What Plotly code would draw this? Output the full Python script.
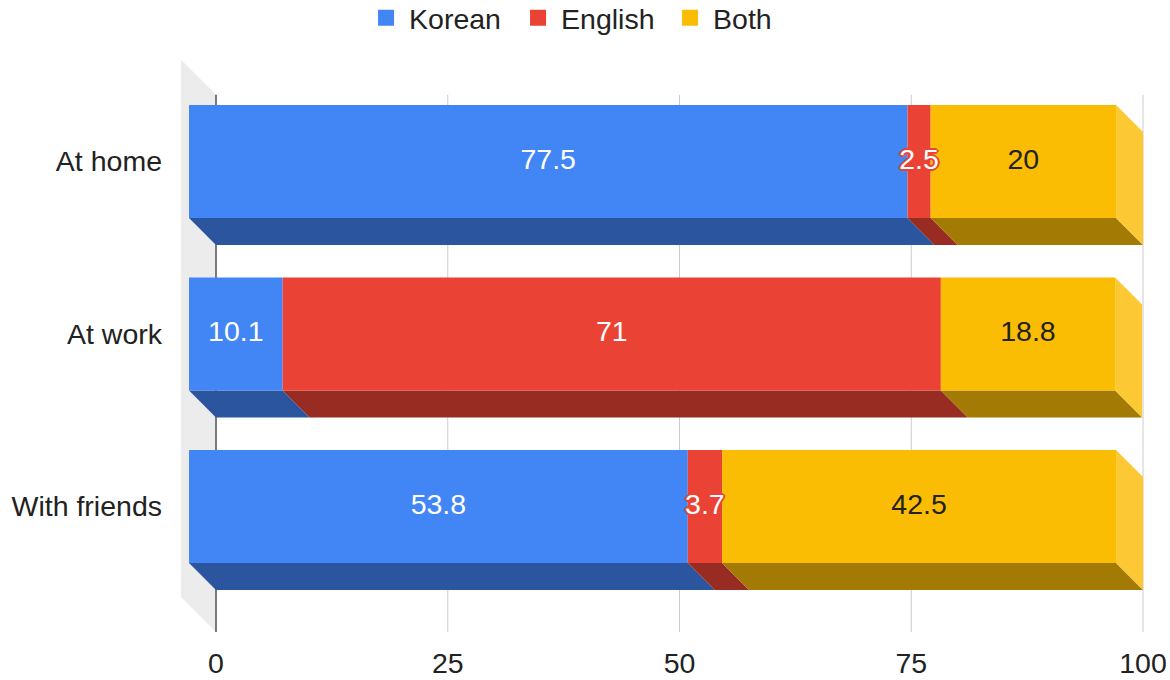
import plotly.graph_objects as go

# ---------------- data ----------------
categories = ["At home", "At work", "With friends"]
series_names = ["Korean", "English", "Both"]
korean = [77.5, 10.1, 53.8]
english = [2.5, 71, 3.7]
both = [20, 18.8, 42.5]
x_tick_values = [0, 25, 50, 75, 100]
x_tick_labels = ["0", "25", "50", "75", "100"]

# ---------------- style ----------------
front_colors = ["#4285F4", "#EA4335", "#FBBC04"]
bottom_colors = ["#2B569F", "#982C23", "#A37A03"]
side_color = "#FCC934"
label_colors = ["#FFFFFF", "#FFFFFF", "#222222"]
FONT = "Liberation Sans, Arial, sans-serif"
FS = 28.5

# 3D geometry (in axis units)
BAR_HALF = 0.3275      # half height of front face (category units)
DX = 2.91              # depth offset along x (value units)
DY = 0.157             # depth offset along y (category units)
WALL_DX = 3.78
WALL_DY = 0.203
GRID_TOP = -0.386
GRID_BOTTOM = 2.728
X_RANGE = [-4.962, 101.83]
Y_RANGE = [2.774, -0.617]

series_values = [korean, english, both]
cat_pos = list(range(len(categories)))

fig = go.Figure()

# back wall at x = 0
fig.add_trace(go.Scatter(
    x=[0, 0, -WALL_DX, -WALL_DX, 0],
    y=[GRID_TOP, GRID_BOTTOM, GRID_BOTTOM - WALL_DY, GRID_TOP - WALL_DY, GRID_TOP],
    fill="toself", fillcolor="#ECECEC", mode="lines", line=dict(width=0),
    hoverinfo="skip", showlegend=False))

# gridlines
gx, gy = [], []
for t in x_tick_values:
    if t == 0:
        continue
    gx += [t, t, None]
    gy += [GRID_TOP, GRID_BOTTOM, None]
fig.add_trace(go.Scatter(x=gx, y=gy, mode="lines", line=dict(color="#CCCCCC", width=1),
                         hoverinfo="skip", showlegend=False))
fig.add_trace(go.Scatter(x=[0, 0], y=[GRID_TOP, GRID_BOTTOM], mode="lines",
                         line=dict(color="#5A5A5A", width=1.6),
                         hoverinfo="skip", showlegend=False))

# cumulative starts
starts = []
for ci in cat_pos:
    acc = 0
    row = []
    for si in range(len(series_values)):
        row.append(acc)
        acc += series_values[si][ci]
    starts.append(row)

n_series = len(series_values)
for si, vals in enumerate(series_values):
    fx, fy, bx, by, sx, sy = [], [], [], [], [], []
    for ci in cat_pos:
        x0 = starts[ci][si]
        x1 = x0 + vals[ci]
        top = ci - BAR_HALF
        bot = ci + BAR_HALF
        # front face (shifted toward viewer)
        fx += [x0 - DX, x1 - DX, x1 - DX, x0 - DX, x0 - DX, None]
        fy += [top, top, bot, bot, top, None]
        # bottom face
        bx += [x0 - DX, x1 - DX, x1, x0, x0 - DX, None]
        by += [bot, bot, bot + DY, bot + DY, bot, None]
        # right side face for last segment
        if si == n_series - 1:
            sx += [x1 - DX, x1, x1, x1 - DX, x1 - DX, None]
            sy += [top, top + DY, bot + DY, bot, top, None]
    fig.add_trace(go.Scatter(x=bx, y=by, fill="toself", fillcolor=bottom_colors[si],
                             mode="lines", line=dict(width=0), hoverinfo="skip", showlegend=False))
    fig.add_trace(go.Scatter(x=fx, y=fy, fill="toself", fillcolor=front_colors[si],
                             mode="lines", line=dict(width=0), hoverinfo="skip", showlegend=False))
    if sx:
        fig.add_trace(go.Scatter(x=sx, y=sy, fill="toself", fillcolor=side_color,
                                 mode="lines", line=dict(width=0), hoverinfo="skip", showlegend=False))

# data labels
for si, vals in enumerate(series_values):
    tx = [starts[ci][si] + vals[ci] / 2 - DX for ci in cat_pos]
    tt = [f"{v:g}" for v in vals]
    font = dict(family=FONT, size=FS, color=label_colors[si])
    if si == 1:
        c = front_colors[1]
        font["shadow"] = (f"1px 1px 0 {c}, -1px -1px 0 {c}, 1px -1px 0 {c}, -1px 1px 0 {c}, "
                          f"2px 0 0 {c}, -2px 0 0 {c}, 0 2px 0 {c}, 0 -2px 0 {c}")
    fig.add_trace(go.Scatter(x=tx, y=cat_pos, mode="text", text=tt, textposition="middle center",
                             textfont=font, hoverinfo="skip", showlegend=False, cliponaxis=False))

# legend entries
for si, name in enumerate(series_names):
    fig.add_trace(go.Scatter(x=[None], y=[None], mode="markers", name=name,
                             marker=dict(symbol="square", size=19, color=front_colors[si])))

fig.update_layout(
    width=1170, height=680,
    margin=dict(l=170, r=10, t=55, b=40, autoexpand=False),
    paper_bgcolor="white", plot_bgcolor="white",
    font=dict(family=FONT, size=FS, color="#222222"),
    showlegend=True,
    legend=dict(orientation="h", x=0.195, xanchor="left", y=1.063, yanchor="middle",
                entrywidth=101, entrywidthmode="pixels", itemwidth=36,
                font=dict(family=FONT, size=FS, color="#222222"), itemsizing="trace"),
    xaxis=dict(range=X_RANGE, tickvals=x_tick_values, ticktext=x_tick_labels,
               showgrid=False, zeroline=False, showline=False, ticks="",
               tickfont=dict(family=FONT, size=FS, color="#222222"), ticklabelstandoff=3),
    yaxis=dict(range=Y_RANGE, tickvals=cat_pos, ticktext=categories,
               showgrid=False, zeroline=False, showline=False, ticks="",
               tickfont=dict(family=FONT, size=FS, color="#222222"), ticklabelstandoff=7),
)

# remove the default page margin so the 1170x680 figure fills the window exactly
fig.write_html("out.html",
               config={"displayModeBar": False},
               post_script="document.body.style.margin='0px'; document.body.style.overflow='hidden';")
